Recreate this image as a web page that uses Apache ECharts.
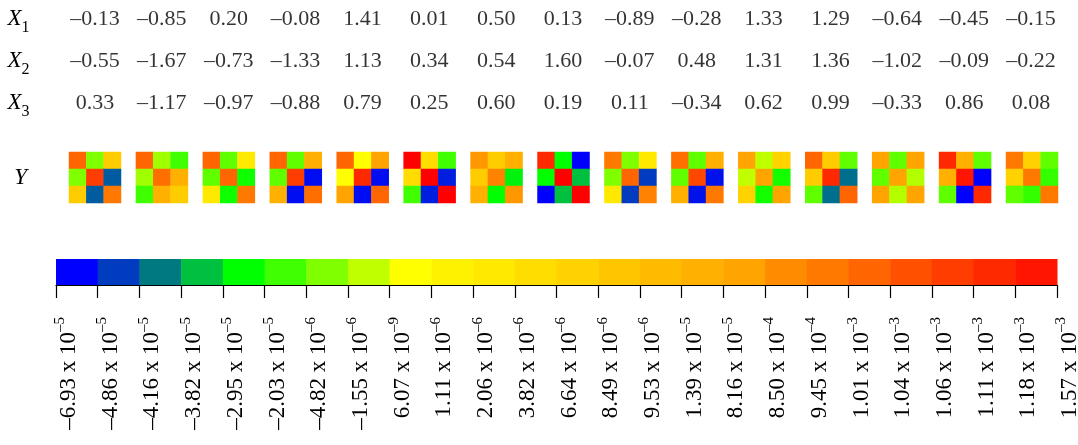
<!DOCTYPE html>
<html>
<head>
<meta charset="utf-8">
<script src="https://cdn.jsdelivr.net/npm/echarts@6/dist/echarts.min.js"></script>
<style>
  html, body { margin: 0; padding: 0; background: #fff; }
  #main { width: 1078px; height: 445px; }
</style>
</head>
<body>
<div id="main"></div>
<script>
  // 输入变量 X1..X3
  var rowNames = ['1', '2', '3'];
  var x1 = [-0.13, -0.85, 0.20, -0.08, 1.41, 0.01, 0.50, 0.13, -0.89, -0.28, 1.33, 1.29, -0.64, -0.45, -0.15];
  var x2 = [-0.55, -1.67, -0.73, -1.33, 1.13, 0.34, 0.54, 1.60, -0.07, 0.48, 1.31, 1.36, -1.02, -0.09, -0.22];
  var x3 = [0.33, -1.17, -0.97, -0.88, 0.79, 0.25, 0.60, 0.19, 0.11, -0.34, 0.62, 0.99, -0.33, 0.86, 0.08];

  // 色条：每段颜色和刻度标签 (尾数 x 10^指数)
  var levelColors = ['#0000ff','#003cc0','#007a80','#00c040','#00ff00','#40ff00','#80ff00','#c0ff00',
    '#ffff00','#fff200','#ffe900','#ffdd00','#ffd200','#ffc600','#ffbb00','#ffb000','#ffa400',
    '#ff8c00','#ff7800','#ff6500','#ff5100','#ff3d00','#ff2900','#ff1500','#ff0000'];
  var tickMantissa = [-6.93, -4.86, -4.16, -3.82, -2.95, -2.03, -4.82, -1.55, 6.07, 1.11, 2.06, 3.82, 6.64,
    8.49, 9.53, 1.39, 8.16, 8.50, 9.45, 1.01, 1.04, 1.06, 1.11, 1.18, 1.57];
  var tickExponent = [-5, -5, -5, -5, -5, -5, -6, -6, -9, -6, -6, -6, -6, -6, -6, -5, -5, -4, -4, -3, -3, -3, -3, -3, -3];

  // 输出 Y：每个 3x3 矩阵的色阶 (按行)
  var yLevels = [
    [19, 6, 12.5, 6, 21, 1.5, 12.5, 1.5, 18],
    [19, 6.5, 5, 6.5, 18.5, 15, 5, 15, 12.5],
    [19, 5.5, 10, 5.5, 19, 4.2, 10, 4.2, 18],
    [19, 5.5, 15, 5.5, 21, 0.2, 15, 0.2, 18.5],
    [19, 8, 16, 8, 22, 0.2, 16, 0.2, 19],
    [24, 11, 5, 11, 24, 0.5, 5, 0.5, 24],
    [16.5, 12.5, 15, 12.5, 17.5, 3.8, 15, 4, 16.5],
    [22, 4, 0, 4, 24, 3, 0, 3, 24],
    [18, 6, 10, 6, 19, 1, 10, 1, 17.5],
    [18.5, 5.5, 15, 5.5, 20.5, 0.3, 15, 0.3, 18],
    [16, 7, 12, 7, 16, 4.3, 12, 4.3, 16],
    [19, 12.5, 5.5, 12.5, 22, 1.8, 5.5, 1.8, 19],
    [16, 5.5, 16, 5.5, 16, 6.8, 16, 6.8, 16],
    [22, 15, 5.5, 15, 23, 0, 5.5, 0, 22],
    [18, 12, 5.5, 12, 18, 4.8, 5.5, 4.8, 18]
  ];

  var FONT = '"Liberation Serif", "DejaVu Serif", serif';

  function fmt(v, d) {
    return (v < 0 ? '\u2013' : '') + Math.abs(v).toFixed(d);
  }

  var myChart = echarts.init(document.getElementById('main'));

  var grids = [], xAxes = [], yAxes = [], series = [];

  // 数值表
  grids.push({ left: 61.5, width: 1003, top: -2, height: 126, outerBoundsMode: 'none' });
  xAxes.push({ type: 'category', gridIndex: 0, data: x1.map(function (v, i) { return i; }), show: false });
  yAxes.push({
    type: 'category', gridIndex: 0, inverse: true, data: rowNames,
    axisLine: { show: false }, axisTick: { show: false }, splitLine: { show: false },
    axisLabel: {
      margin: 54, align: 'left',
      formatter: function (v) { return '{x|X}{s|' + v + '}'; },
      rich: {
        x: { fontFamily: FONT, fontStyle: 'italic', fontSize: 23, color: '#000', lineHeight: 34, verticalAlign: 'middle' },
        s: { fontFamily: FONT, fontSize: 16, color: '#000', verticalAlign: 'bottom' }
      }
    }
  });
  var tableData = [];
  [x1, x2, x3].forEach(function (row, r) {
    row.forEach(function (v, c) { tableData.push([c, r, v]); });
  });
  series.push({
    type: 'scatter', xAxisIndex: 0, yAxisIndex: 0, symbolSize: 0, silent: true,
    data: tableData,
    label: {
      show: true, position: 'inside', fontFamily: FONT, fontSize: 22, color: '#000',
      formatter: function (p) { return fmt(p.value[2], 2); }
    }
  });

  // 15 个 3x3 热力图
  yLevels.forEach(function (lv, g) {
    var gi = grids.length;
    grids.push({ left: 69 + 66.93 * g, width: 52, top: 152, height: 51, outerBoundsMode: 'none' });
    xAxes.push({ type: 'category', gridIndex: gi, data: [0, 1, 2], show: false });
    yAxes.push({
      type: 'category', gridIndex: gi, data: [0, 1, 2], inverse: true,
      show: g === 0,
      axisLine: { show: false }, axisTick: { show: false }, axisLabel: { show: false }, splitLine: { show: false },
      name: g === 0 ? 'Y' : '', nameLocation: 'middle', nameRotate: 0, nameGap: 42,
      nameTextStyle: { fontFamily: FONT, fontStyle: 'italic', fontSize: 23, color: '#000' }
    });
    series.push({
      type: 'heatmap', xAxisIndex: gi, yAxisIndex: gi, silent: true,
      data: lv.map(function (v, k) { return [k % 3, Math.floor(k / 3), v]; }),
      emphasis: { disabled: true }
    });
  });

  // 色条
  var cb = grids.length;
  grids.push({ left: 56, width: 1001, top: 259, height: 26, outerBoundsMode: 'none' });
  xAxes.push({
    type: 'value', gridIndex: cb, min: 0, max: 24, interval: 1,
    axisLine: { show: true, onZero: false, lineStyle: { color: '#000', width: 1.2 } },
    axisTick: { show: true, length: 13, lineStyle: { color: '#000', width: 1.2 } },
    splitLine: { show: false },
    axisLabel: {
      rotate: 90, margin: 32, padding: [26, 0, 0, 0],
      formatter: function (v) {
        var i = Math.round(v);
        return '{m|' + fmt(tickMantissa[i], 2) + ' x 10}{e|' + fmt(tickExponent[i], 0) + '}';
      },
      rich: {
        m: { fontFamily: FONT, fontSize: 23, color: '#000', lineHeight: 32 },
        e: { fontFamily: FONT, fontSize: 15, color: '#000', verticalAlign: 'top' }
      }
    }
  });
  yAxes.push({ type: 'value', gridIndex: cb, min: 0, max: 1, show: false });
  series.push({
    type: 'custom', xAxisIndex: cb, yAxisIndex: cb, silent: true,
    data: levelColors.slice(0, 24).map(function (c, i) { return [i, i]; }),
    renderItem: function (params, api) {
      var i = api.value(0);
      var p0 = api.coord([i, 1]);
      var p1 = api.coord([i + 1, 0]);
      return {
        type: 'rect',
        shape: { x: p0[0], y: p0[1], width: p1[0] - p0[0] + 0.5, height: p1[1] - p0[1] },
        style: { fill: api.visual('color') }
      };
    }
  });

  var option = {
    backgroundColor: '#fff',
    animation: false,
    grid: grids,
    xAxis: xAxes,
    yAxis: yAxes,
    visualMap: {
      show: false, type: 'continuous', min: 0, max: 24,
      seriesIndex: series.map(function (s, i) { return i; }).slice(1),
      inRange: { color: levelColors }
    },
    series: series
  };
  myChart.setOption(option);
</script>
</body>
</html>
